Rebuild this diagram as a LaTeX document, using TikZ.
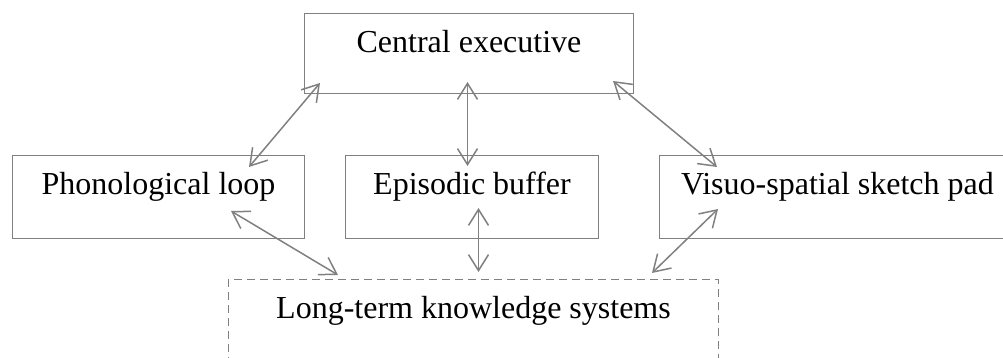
\documentclass[tikz,border=0pt]{standalone}
\usepackage{fontspec}
\setmainfont{Liberation Serif}
\usetikzlibrary{positioning,arrows.meta}

\definecolor{linegray}{HTML}{808080}

\begin{document}
\begin{tikzpicture}[x=0.5pt, y=-0.5pt,
% node style
box/.style={draw=linegray, line width=0.5pt, inner sep=0pt, anchor=north west,
  font=\fontsize{16}{19}\selectfont, text height=19.5pt, text depth=22pt},
ltbox/.style={box, dash pattern=on 4pt off 2.5pt, text depth=23.5pt},
link/.style={{Straight Barb[length=8pt,width=10pt]}-{Straight Barb[length=8pt,width=10pt]}, draw=linegray, line width=0.75pt}
]
\useasboundingbox (0,0) rectangle (1003,358);

% nodes
\node[box, text depth=20.5pt, minimum width=164.5pt] (central) at (304,13) {Central executive};
\node[box, minimum width=146pt] (phon) at (12,155) {Phonological loop};
\node[box, minimum width=126.5pt] (episodic) at (345,155) {Episodic buffer};
\node[box, minimum width=178pt] (visuo) at (659,155) {Visuo-spatial sketch pad};
\node[ltbox, minimum width=245pt] (longterm) at (228,279) {Long-term knowledge systems};

% arrow ends inside the boxes
\coordinate (ce_l) at ([xshift=8pt, yshift=5.5pt]central.south west);
\coordinate (ce_m) at ([xshift=-0.75pt, yshift=6pt]central.south);
\coordinate (ce_r) at ([xshift=-10.5pt, yshift=6.5pt]central.south east);
\coordinate (pl_t) at ([xshift=-28pt, yshift=-6pt]phon.north east);
\coordinate (pl_b) at ([xshift=-37pt, yshift=14pt]phon.south east);
\coordinate (eb_t) at ([xshift=-2.25pt, yshift=-5.5pt]episodic.north);
\coordinate (eb_b) at ([xshift=3.25pt, yshift=15.5pt]episodic.south);
\coordinate (vs_t) at ([xshift=29pt, yshift=-6pt]visuo.north west);
\coordinate (vs_b) at ([xshift=29.5pt, yshift=15pt]visuo.south west);
\coordinate (lt_l) at ([xshift=55pt, yshift=2pt]longterm.north west);
\coordinate (lt_m) at ([xshift=2.5pt, yshift=3.5pt]longterm.north);
\coordinate (lt_r) at ([xshift=-33.5pt, yshift=3pt]longterm.north east);

% draw lines between nodes
\draw[link] (pl_t) -- (ce_l);
\draw[link] (eb_t) -- (ce_m);
\draw[link] (vs_t) -- (ce_r);
\draw[link] (pl_b) -- (lt_l);
\draw[link] (eb_b) -- (lt_m);
\draw[link] (vs_b) -- (lt_r);

\end{tikzpicture}
\end{document}
